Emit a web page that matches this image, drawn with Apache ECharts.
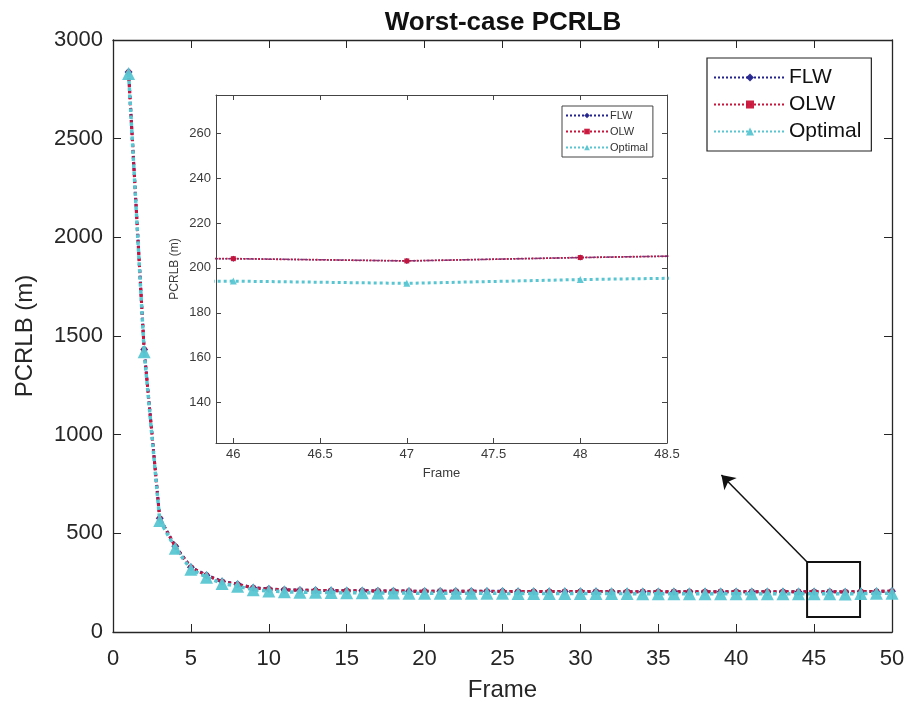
<!DOCTYPE html>
<html>
<head>
<meta charset="utf-8">
<title>Worst-case PCRLB</title>
<script src="https://cdn.jsdelivr.net/npm/echarts@6/dist/echarts.min.js"></script>
<style>
  html, body { margin: 0; padding: 0; background: #ffffff; }
  #chart { width: 908px; height: 705px; }
</style>
</head>
<body>
<div id="chart"></div>
<script>
// ---- data ----
const frames = [
  1, 2, 3, 4, 5, 6, 7, 8, 9, 10,
  11, 12, 13, 14, 15, 16, 17, 18, 19, 20,
  21, 22, 23, 24, 25, 26, 27, 28, 29, 30,
  31, 32, 33, 34, 35, 36, 37, 38, 39, 40,
  41, 42, 43, 44, 45, 46, 47, 48, 49, 50
];

// worst-case PCRLB (m) per frame
const flw = [
  2838, 1432, 576, 434, 328, 288, 256, 242, 224, 218,
  214, 212, 211, 210, 209, 209, 208, 208, 207, 207,
  207, 206, 206, 206, 206, 205, 205, 205, 205, 205,
  205, 204.5, 204.5, 204.3, 204.3, 204.2, 204.2, 204.2, 204.1, 204.1,
  204.1, 204.1, 204.0, 204.0, 204.0, 204.1, 203.1, 204.6, 205.8, 206.3
];
const olw = [
  2836, 1430, 575, 433, 327, 287, 255, 241, 223, 217,
  213.5, 211.5, 210.5, 209.5, 209, 208.5, 208, 207.5, 207, 206.8,
  206.6, 206.2, 206, 205.8, 205.6, 205.3, 205.1, 205, 204.9, 204.8,
  204.7, 204.5, 204.4, 204.3, 204.2, 204.2, 204.1, 204.1, 204.1, 204.0,
  204.0, 204.0, 203.9, 203.9, 204.0, 204.1, 203.1, 204.6, 205.8, 206.3
];
const optimal = [
  2830, 1420, 565, 425, 318, 278, 246, 232, 214, 208,
  204, 202, 201, 200, 199, 199, 198, 198, 197, 197,
  197, 196, 196, 196, 196, 195, 195, 195, 195, 195,
  195, 194.5, 194.5, 194.3, 194.3, 194.2, 194.2, 194.2, 194.1, 194.1,
  194.1, 194.1, 194.0, 194.0, 194.0, 194.1, 193.1, 194.8, 195.9, 196.5
];

const seriesNames = ['FLW', 'OLW', 'Optimal'];

// main axes
const mainXRange = [0, 50];
const mainXStep = 5;
const mainYRange = [0, 3000];
const mainYStep = 500;

// magnified view
const insetXRange = [45.9, 48.5];
const insetYRange = [122, 277];
const insetXTicks = [46, 46.5, 47, 47.5, 48, 48.5];
const insetYTicks = [140, 160, 180, 200, 220, 240, 260];

// region that is magnified, and the pointer towards the magnified view
const zoomCorners = [[44.55, 76], [47.95, 355]];
const pointerEnds = [[44.55, 355], [39.05, 796]];

// ---- styling ----
const FONT = '"Liberation Sans", Arial, Helvetica, sans-serif';
const INK = '#262626';
const colors = { FLW: '#23238e', OLW: '#c8143a', Optimal: '#58c6d2' };
const symbols = { FLW: 'diamond', OLW: 'rect', Optimal: 'triangle' };
const mainSymbolSize = { FLW: 8, OLW: 5, Optimal: 13 };
const insetSymbolSize = { FLW: 6, OLW: 5, Optimal: 7 };
const mainLineWidth = { FLW: 3, OLW: 3, Optimal: 3.5 };
const insetLineWidth = { FLW: 1.5, OLW: 1.8, Optimal: 3 };
const valuesByName = { FLW: flw, OLW: olw, Optimal: optimal };

const pairs = arr => frames.map((f, i) => [f, arr[i]]);
const plain = v => String(v);

function lineSeries(name, axisIdx, inset) {
  return {
    name: name,
    type: 'line',
    xAxisIndex: axisIdx,
    yAxisIndex: axisIdx,
    data: pairs(valuesByName[name]),
    symbol: symbols[name],
    symbolSize: inset ? insetSymbolSize[name] : mainSymbolSize[name],
    showAllSymbol: true,
    clip: true,
    animation: false,
    lineStyle: {
      color: colors[name],
      width: inset ? insetLineWidth[name] : mainLineWidth[name],
      type: 'dotted'
    },
    itemStyle: { color: colors[name], opacity: 0.95 },
    emphasis: { disabled: true },
    z: 2 + seriesNames.indexOf(name)
  };
}

function frameAxis(base, extra) {
  return Object.assign({
    axisLine: { show: true, onZero: false, lineStyle: { color: INK, width: 1.3 } },
    splitLine: { show: false }
  }, base, extra);
}

const mainLabel = { color: INK, fontSize: 22, fontFamily: FONT, formatter: plain };
const insetLabel = { color: '#3a3a3a', fontSize: 13, fontFamily: FONT, formatter: plain };

const xAxes = [
  // main, bottom
  frameAxis({
    type: 'value', gridIndex: 0, min: mainXRange[0], max: mainXRange[1], interval: mainXStep,
    position: 'bottom',
    axisTick: { inside: true, length: 8, lineStyle: { color: INK } },
    axisLabel: Object.assign({ margin: 16 }, mainLabel),
    name: 'Frame', nameLocation: 'middle', nameGap: 46,
    nameTextStyle: { color: INK, fontSize: 24, fontFamily: FONT }
  }),
  // main, top edge
  frameAxis({
    type: 'value', gridIndex: 0, min: mainXRange[0], max: mainXRange[1], interval: mainXStep,
    position: 'top',
    axisTick: { inside: true, length: 8, lineStyle: { color: INK } },
    axisLabel: { show: false }
  }),
  // magnified, bottom
  frameAxis({
    type: 'value', gridIndex: 1, min: insetXRange[0], max: insetXRange[1],
    position: 'bottom',
    axisLine: { show: true, onZero: false, lineStyle: { color: '#444', width: 1 } },
    axisTick: { inside: true, length: 5, customValues: insetXTicks, lineStyle: { color: '#444' } },
    axisLabel: Object.assign({ margin: 5, customValues: insetXTicks }, insetLabel),
    name: 'Frame', nameLocation: 'middle', nameGap: 24,
    nameTextStyle: { color: '#3a3a3a', fontSize: 13, fontFamily: FONT }
  }),
  // magnified, top edge
  frameAxis({
    type: 'value', gridIndex: 1, min: insetXRange[0], max: insetXRange[1],
    position: 'top',
    axisLine: { show: true, onZero: false, lineStyle: { color: '#444', width: 1 } },
    axisTick: { inside: true, length: 5, customValues: insetXTicks, lineStyle: { color: '#444' } },
    axisLabel: { show: false }
  })
];

const yAxes = [
  frameAxis({
    type: 'value', gridIndex: 0, min: mainYRange[0], max: mainYRange[1], interval: mainYStep,
    position: 'left',
    axisTick: { inside: true, length: 8, lineStyle: { color: INK } },
    axisLabel: Object.assign({ margin: 10 }, mainLabel),
    name: 'PCRLB (m)', nameLocation: 'middle', nameGap: 76,
    nameTextStyle: { color: INK, fontSize: 24, fontFamily: FONT }
  }),
  frameAxis({
    type: 'value', gridIndex: 0, min: mainYRange[0], max: mainYRange[1], interval: mainYStep,
    position: 'right',
    axisTick: { inside: true, length: 8, lineStyle: { color: INK } },
    axisLabel: { show: false }
  }),
  frameAxis({
    type: 'value', gridIndex: 1, min: insetYRange[0], max: insetYRange[1],
    position: 'left',
    axisLine: { show: true, onZero: false, lineStyle: { color: '#444', width: 1 } },
    axisTick: { inside: true, length: 5, customValues: insetYTicks, lineStyle: { color: '#444' } },
    axisLabel: Object.assign({ margin: 5, customValues: insetYTicks }, insetLabel),
    name: 'PCRLB (m)', nameLocation: 'middle', nameGap: 35,
    nameTextStyle: { color: '#3a3a3a', fontSize: 12, fontFamily: FONT }
  }),
  frameAxis({
    type: 'value', gridIndex: 1, min: insetYRange[0], max: insetYRange[1],
    position: 'right',
    axisLine: { show: true, onZero: false, lineStyle: { color: '#444', width: 1 } },
    axisTick: { inside: true, length: 5, customValues: insetYTicks, lineStyle: { color: '#444' } },
    axisLabel: { show: false }
  })
];

const series = [];
seriesNames.forEach(n => series.push(lineSeries(n, 0, false)));
seriesNames.forEach(n => series.push(lineSeries(n, 2, true)));

// zoom window and pointer hang off the main FLW series
series[0].markArea = {
  silent: true,
  itemStyle: { color: 'rgba(0,0,0,0)', borderColor: '#111', borderWidth: 2 },
  data: [[{ coord: zoomCorners[0] }, { coord: zoomCorners[1] }]]
};
series[0].markLine = {
  silent: true,
  symbol: ['none', 'arrow'],
  symbolSize: 13,
  label: { show: false },
  lineStyle: { color: '#111', width: 1.5, type: 'solid' },
  data: [[{ coord: pointerEnds[0] }, { coord: pointerEnds[1] }]]
};

const chart = echarts.init(document.getElementById('chart'), null, { renderer: 'canvas' });
chart.setOption({
  backgroundColor: '#ffffff',
  animation: false,
  title: {
    text: 'Worst-case PCRLB',
    left: 498,
    top: 5,
    textAlign: 'center',
    textStyle: { fontFamily: FONT, fontSize: 26, fontWeight: 'bold', color: '#111' }
  },
  grid: [
    { left: 113, right: 16, top: 40, bottom: 73, containLabel: false, outerBoundsMode: 'none' },
    { left: 216, top: 95, width: 451, height: 348, containLabel: false, outerBoundsMode: 'none',
      show: true, backgroundColor: '#ffffff', borderWidth: 0 }
  ],
  legend: [
    {
      data: seriesNames,
      orient: 'vertical',
      left: 707, top: 58,
      padding: [8, 10, 8, 6],
      itemGap: 4,
      itemWidth: 72, itemHeight: 10,
      borderColor: '#222', borderWidth: 1.2, borderRadius: 0,
      backgroundColor: '#ffffff',
      selectedMode: false,
      textStyle: { fontFamily: FONT, fontSize: 21, color: '#111', lineHeight: 23, padding: [0, 0, 0, -2] }
    },
    {
      data: seriesNames,
      orient: 'vertical',
      left: 562, top: 106,
      padding: [4, 5, 4, 3],
      itemGap: 5,
      itemWidth: 42, itemHeight: 7,
      borderColor: '#444', borderWidth: 1, borderRadius: 0,
      backgroundColor: '#ffffff',
      selectedMode: false,
      textStyle: { fontFamily: FONT, fontSize: 11, color: '#333', padding: [0, 0, 0, -3] }
    }
  ],
  xAxis: xAxes,
  yAxis: yAxes,
  series: series
});
</script>
</body>
</html>
